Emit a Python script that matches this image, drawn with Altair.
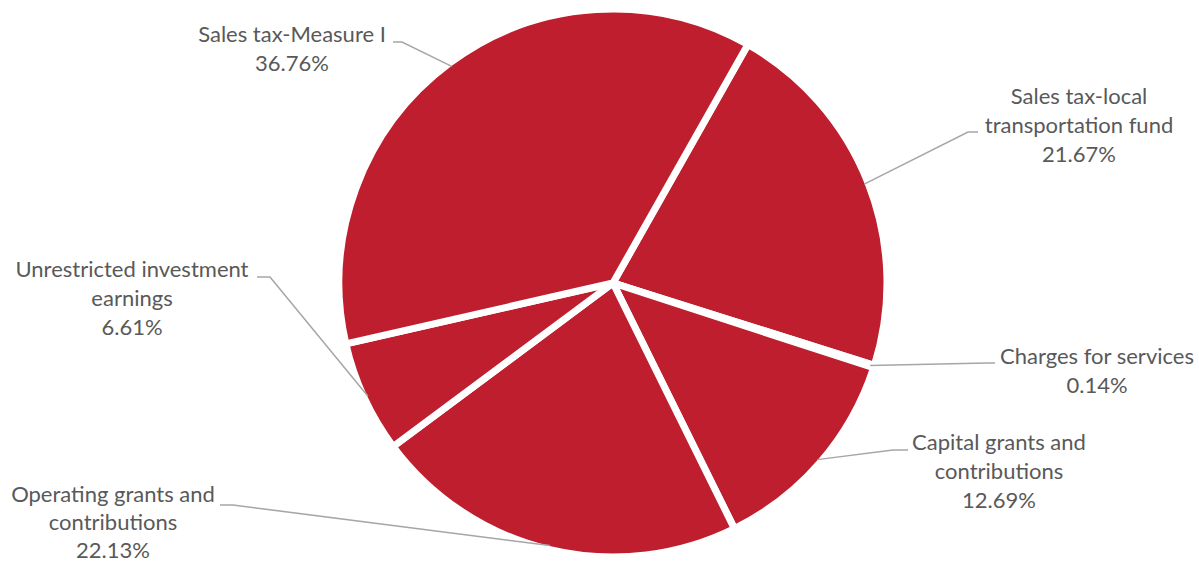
import altair as alt
import pandas as pd
import numpy as np

# ---- data ----
categories = [
    "Sales tax-local transportation fund",
    "Charges for services",
    "Capital grants and contributions",
    "Operating grants and contributions",
    "Unrestricted investment earnings",
    "Sales tax-Measure I",
]
shares = [21.67, 0.14, 12.69, 22.13, 6.61, 36.76]
label_text = [
    ["Sales tax-local", "transportation fund"],
    ["Charges for services"],
    ["Capital grants and", "contributions"],
    ["Operating grants and", "contributions"],
    ["Unrestricted investment", "earnings"],
    ["Sales tax-Measure I"],
]

# ---- layout ----
W, H = 1199, 565
CX, CY, R = 613, 283, 274
START = np.deg2rad(29.5)
LINE_H = 29
label_pos = [(1079, 97), (1097, 357), (999, 443), (113, 495), (132, 270), (292, 35)]
line_h = [29, 29, 29, 28, 29, 29]
elbows = [(968, 132), (987, 363), (893, 450), (233, 505), (270, 277), (402, 42)]
ends = [(978, 132), (995, 363), (908, 450), (220, 505), (257, 277), (393, 42)]
RED = "#BE1E2D"
TEXT = "#595959"
LEADER = "#A6A6A6"

df = pd.DataFrame({"cat": categories, "share": shares, "idx": range(len(shares))})

# leader lines: start at slice mid-angle on the rim
total = sum(shares)
cum = np.cumsum(shares)
rows = []
for i, (c, v) in enumerate(zip(categories, shares)):
    mid = START + 2 * np.pi * (cum[i] - v / 2) / total
    ex = CX + 270 * np.sin(mid)
    ey = CY - 270 * np.cos(mid)
    rows.append({"cat": c, "pt": 0, "x": ex, "y": ey})
    rows.append({"cat": c, "pt": 1, "x": elbows[i][0], "y": elbows[i][1]})
    rows.append({"cat": c, "pt": 2, "x": ends[i][0], "y": ends[i][1]})
lines_df = pd.DataFrame(rows)

trows = []
for i, (c, v) in enumerate(zip(categories, shares)):
    lines = label_text[i] + [f"{v:.2f}%"]
    for j, t in enumerate(lines):
        trows.append({"cat": c, "t": t, "x": label_pos[i][0], "y": label_pos[i][1] + j * line_h[i]})
text_df = pd.DataFrame(trows)

arc = alt.Chart(df).mark_arc(radius=R, stroke="white", strokeWidth=7, color=RED).encode(
    theta=alt.Theta("share:Q", stack=True, scale=alt.Scale(range=[float(START), float(START + 2 * np.pi)])),
    order=alt.Order("idx:Q"),
    x=alt.value(CX),
    y=alt.value(CY),
)

leaders = alt.Chart(lines_df).mark_line(color=LEADER, strokeWidth=1.5).encode(
    x=alt.X("x:Q", scale=None, axis=None),
    y=alt.Y("y:Q", scale=None, axis=None),
    detail="cat:N",
    order="pt:Q",
)

labels = alt.Chart(text_df).mark_text(
    font="Lato", fontSize=22, color=TEXT, baseline="middle", align="center"
).encode(
    x=alt.X("x:Q", scale=None, axis=None),
    y=alt.Y("y:Q", scale=None, axis=None),
    text="t:N",
)

chart = alt.layer(arc, leaders, labels).properties(
    width=W, height=H, padding=0, autosize="none", background="white"
).configure_view(stroke=None)

chart.save("out.html", embed_options={"renderer": "svg", "actions": False})
